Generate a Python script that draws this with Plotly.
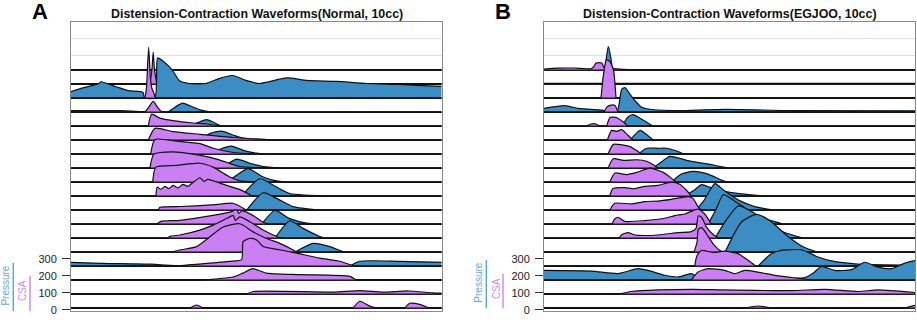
import plotly.graph_objects as go

BLUE = '#3C8DC3'
PURPLE = '#CA80F2'
X_MAX = 371

# ---------------- Panel A (Normal) : rows top -> bottom, (x, value) ----------------
A_PRESSURE = [
    [(0, 3), (371, 3)],
    [(0, 3), (371, 3)],
    [(0, 39), (10, 58), (28, 87), (30, 97), (45, 68), (57, 45), (72, 35), (73.5, 3), (84, 3), (86.7, 238),
     (91.7, 221), (101.7, 163), (108.3, 105), (118.3, 87), (135, 87), (148, 116), (161.7, 134), (175, 105),
     (189, 87), (216, 120), (236, 105), (266, 99), (296, 87), (329, 81), (346, 76), (371, 70)],
    [(0, 9), (50, 9), (74, 3), (97, 0), (104, 29), (111.7, 54), (120, 35), (130, 12), (140, 0)],
    [(115.7, 0), (125.7, 19), (135.7, 39), (142, 25), (150.7, 0)],
    [(129, 0), (139, 39), (150.7, 54), (162, 31), (172.3, 12), (205.7, 0)],
    [(139, 0), (149, 29), (160.7, 48), (172.3, 23), (185.7, 6), (195.7, 0)],
    [(150.7, 0), (165.7, 54), (179, 29), (192.3, 10), (215.7, 0)],
    [(155.7, 0), (165.7, 41), (177.3, 80), (192.3, 31), (205.7, 8), (215.7, 0)],
    [(170.7, 0), (189, 103), (205.7, 54), (219, 16), (262, 0)],
    [(175.7, 0), (192.3, 103), (205.7, 70), (222.3, 21), (249, 0)],
    [(190.7, 0), (204, 81), (219, 33), (235.7, 6), (250, 0)],
    [(204, 0), (219, 103), (232.3, 58), (249, 10), (255.7, 0)],
    [(224, 0), (242.3, 52), (259, 33), (272.3, 4), (280, 0)],
    [(0, 23), (30, 17), (80, 12), (109, 0), (279, 0), (289, 29), (329, 29), (371, 23)],
    [(0, 4), (371, 4)],
    [(0, 3), (371, 3)],
    [(0, 3), (371, 3)],
]
A_CSA = [
    [(0, 2), (371, 2)],
    [(79, 0), (81, 87), (82.3, 190), (83.5, 87), (86, 0)],
    [(74, 0), (75.5, 58), (77.7, 300), (79.5, 116), (81, 58), (83, 29), (84.5, 0)],
    [(74, 0), (77, 23), (82.3, 64), (86, 35), (90, 6), (95, 0)],
    [(77.3, 0), (80.7, 71), (89, 48), (102, 33), (122, 19), (136, 13), (149, 0)],
    [(77.3, 0), (84, 70), (102.3, 51), (129, 35), (162, 16), (205.7, 0)],
    [(79.7, 0), (84, 87), (105.7, 77), (115.7, 71), (129, 62), (142.3, 35), (162.3, 10), (195.7, 0)],
    [(79, 0), (83, 83), (102.3, 97), (122.3, 83), (142.3, 60), (155.7, 35), (169, 10), (215.7, 0)],
    [(81.7, 0), (85, 89), (105.7, 99), (129, 112), (142.3, 89), (159, 31), (169, 8), (205.7, 0)],
    [(85, 0), (86.3, 54), (90, 41), (94, 58), (98, 44), (102, 64), (107, 49), (112, 70), (117, 58),
     (122, 81), (129, 109), (133, 87), (137, 99), (149, 77), (169, 39), (182, 0)],
    [(87.3, 0), (89, 17), (110, 22), (129, 27), (145, 33), (162.3, 41), (175.7, 0)],
    [(85.7, 0), (90, 17), (109, 23), (142, 52), (159, 71), (165.7, 85), (168, 64), (171, 78), (182, 52),
     (192, 13), (197, 0)],
    [(95.7, 0), (100, 12), (109, 19), (129, 48), (142.3, 77), (155.7, 116), (162.3, 135), (164.5, 105),
     (169, 126), (179, 97), (192.3, 48), (205.7, 10), (210, 0)],
    [(100, 0), (109, 13), (125.7, 33), (139, 91), (152.3, 149), (169, 168), (182.3, 120), (195.7, 81),
     (209, 52), (222.3, 13), (226, 0)],
    [(105, 0), (120, 9), (159, 29), (170.7, 39), (172.3, 145), (179, 164), (185.7, 155), (192.3, 116),
     (209, 97), (225.7, 77), (249, 48), (269, 29), (279, 10), (285, 0)],
    [(129, 0), (162, 19), (172, 42), (182, 68), (195.7, 42), (229, 33), (279, 23), (285.7, 0)],
    [(175.7, 0), (182.3, 16), (262.3, 12), (289, 21), (312.3, 12), (337.3, 19), (362.3, 8), (371, 6)],
    [(119, 0), (125.7, 19), (132.3, 0), (282.3, 0), (289, 41), (299, 12), (305, 0), (334, 0), (339, 29),
     (349, 23), (359, 0)],
]

# ---------------- Panel B (EGJOO) ----------------
B_PRESSURE = [
    [(0, 2), (371, 2)],
    [(58.5, 0), (61.5, 120), (64.3, 222), (67, 150), (70, 0)],
    [(0, 2), (371, 2)],
    [(0, 23), (20.7, 39), (34, 23), (47.3, 17), (60.7, 10), (62.7, 3), (73, 3), (77.7, 135), (81, 145),
     (86, 106), (91, 68), (97.7, 29), (107.7, 16), (141, 10), (180.7, 17), (247.3, 10), (371, 8)],
    [(78, 0), (84, 54), (89.3, 68), (96, 47), (107.7, 6), (112, 0)],
    [(86, 0), (96, 58), (102.3, 35), (109, 4), (115, 0)],
    [(94, 0), (102.7, 35), (114, 35), (122.7, 35), (132.7, 19), (140, 0)],
    [(109, 0), (118, 40), (126, 70), (146, 42), (169.3, 19), (185, 0)],
    [(127.3, 0), (137.3, 48), (149.3, 64), (164, 48), (177.3, 13), (184, 0)],
    [(140.7, 0), (150, 35), (157.7, 68), (166, 52), (180, 29), (200, 12), (220, 0)],
    [(152, 0), (160, 58), (171, 157), (180, 116), (195, 58), (210, 23), (230, 0)],
    [(164, 0), (172, 87), (179.3, 174), (190, 139), (205, 81), (220, 35), (240, 0)],
    [(171, 0), (182, 105), (194.3, 190), (207.7, 157), (222, 93), (240, 35), (260, 0)],
    [(181, 0), (197.7, 180), (212.7, 223), (226, 186), (244, 93), (260, 29), (274, 0)],
    [(214, 0), (227.3, 74), (237.3, 93), (257.3, 97), (274, 54), (287.3, 31), (314, 12), (371, 6)],
    [(0, 58), (47.3, 54), (74, 39), (94, 68), (104, 58), (120.7, 29), (134, 19), (147.3, 39), (154, 19),
     (200, 12), (260.7, 16), (270, 46), (277.3, 81), (290.7, 58), (307.3, 62), (320.7, 106), (334, 77),
     (347.3, 68), (360.7, 101), (371, 116)],
    [(0, 3), (371, 3)],
    [(0, 2), (371, 2)],
]
B_CSA = [
    [(0, 6), (14, 12), (30, 13), (47, 9), (50, 23), (52, 43), (57.7, 43), (60, 17), (72.7, 8), (85, 4),
     (371, 4)],
    [(0, 5), (371, 5)],
    [(57, 0), (59.5, 140), (62.5, 228), (66, 215), (69.5, 165), (72, 0)],
    [(60, 0), (62.7, 29), (66, 40), (71, 40), (74, 0)],
    [(42, 0), (47, 13), (52, 13), (56, 0), (62.7, 0), (66, 52), (72.7, 50), (79.3, 25), (84, 0)],
    [(63.3, 0), (67.7, 58), (72.7, 52), (77.7, 62), (84, 29), (89, 0)],
    [(64, 0), (69.3, 58), (79.3, 54), (86, 45), (94.3, 15), (98, 0)],
    [(64, 0), (69.3, 56), (79.3, 46), (92.7, 50), (102.7, 41), (109.3, 20), (114, 0)],
    [(65.7, 0), (71, 54), (82.7, 45), (92.7, 58), (106, 83), (119.3, 58), (129.3, 15), (133, 0)],
    [(65.7, 0), (69, 45), (80.7, 51), (90, 44), (100.7, 58), (114, 64), (127.3, 83), (135.7, 70), (144, 25),
     (147.3, 0)],
    [(65.7, 0), (70.7, 41), (87.3, 37), (100.7, 51), (114, 54), (127.3, 64), (144, 80), (149, 70), (154, 21),
     (157.3, 0)],
    [(68, 0), (70.7, 31), (74, 41), (80.7, 17), (100.7, 21), (120.7, 35), (130.7, 51), (140.7, 60), (149, 80),
     (154, 89), (160.7, 60), (167.3, 0)],
    [(75, 0), (77.3, 19), (84, 33), (90.7, 19), (114, 19), (134, 33), (147.3, 39), (152, 58), (154.3, 132),
     (157.7, 122), (162.7, 64), (170, 17), (175, 0)],
    [(150, 0), (153, 58), (154.3, 135), (157.7, 145), (162.7, 106), (169.3, 48), (176, 10), (180, 0)],
    [(150.7, 0), (152.7, 58), (157.3, 93), (169.3, 81), (180.7, 89), (194, 74), (204, 35), (210.7, 6),
     (214, 0)],
    [(147.3, 0), (154, 48), (164, 68), (180.7, 58), (190.7, 39), (200.7, 58), (214, 48), (230.7, 29),
     (247.3, 16), (264, 4), (268, 0)],
    [(74, 0), (87.3, 16), (114, 25), (147.3, 29), (180.7, 25), (247.3, 21), (280.7, 29), (314, 16), (334, 25),
     (371, 10)],
    [(200, 0), (214, 13), (228, 0), (360, 0), (371, 17)],
]

TITLES = ['Distension-Contraction Waveforms(Normal, 10cc)', 'Distension-Contraction Waveforms(EGJOO, 10cc)']
PANEL_LETTERS = ['A', 'B']
Y_TICKS = [0, 100, 200, 300]
GRID_VALUES = [1500, 1600]

ROW_BASE0 = 9.3
ROW_STEP = 82.6
N_ROWS = 18

W, H = 917, 330


def px(x):
    return x / W


def py(y):
    return 1 - y / H


fig = go.Figure()


def add_panel(pressure, csa, xa, ya):
    for r in range(N_ROWS):
        base = ROW_BASE0 + ROW_STEP * (N_ROWS - 1 - r)
        for series, color in ((pressure, BLUE), (csa, PURPLE)):
            pts = list(series[r])
            if pts[0][0] > 0:
                pts = [(0, 0)] + pts
            if pts[-1][0] < X_MAX:
                pts = pts + [(X_MAX, 0)]
            xs, ys = [], []
            for x, v in pts:
                # zero-valued points are repeated so the smoothed curve meets the baseline flat
                reps = 2 if v == 0 else 1
                for _ in range(reps):
                    xs.append(x)
                    ys.append(base + v)
            fig.add_trace(go.Scatter(x=[xs[0], xs[-1]], y=[base, base], xaxis=xa, yaxis=ya, mode='lines',
                                     line=dict(color='rgba(0,0,0,0)', width=0),
                                     hoverinfo='skip', showlegend=False))
            fig.add_trace(go.Scatter(x=xs, y=ys, xaxis=xa, yaxis=ya, mode='lines', fill='tonexty',
                                     fillcolor=color,
                                     line=dict(color='#111111', width=1.2, shape='spline', smoothing=0.6,
                                               simplify=False),
                                     hoverinfo='skip', showlegend=False))
            fig.add_trace(go.Scatter(x=[0, X_MAX], y=[base, base], xaxis=xa, yaxis=ya, mode='lines',
                                     line=dict(color='#111111', width=1.3),
                                     hoverinfo='skip', showlegend=False))


add_panel(A_PRESSURE, A_CSA, 'x', 'y')
add_panel(B_PRESSURE, B_CSA, 'x2', 'y2')

y_dom = [py(315.4), py(22)]
axis_common_x = dict(range=[0, X_MAX], showticklabels=False, ticks='', showgrid=False, zeroline=False,
                     showline=True, linecolor='#8a8a8a', linewidth=1, mirror=True, fixedrange=True)
axis_common_y = dict(range=[-5, 1700], tickvals=Y_TICKS, ticks='outside', ticklen=8, tickcolor='#333333',
                     tickwidth=1, tickfont=dict(size=11, color='#222222', family='Liberation Sans'),
                     showgrid=False, zeroline=False, showline=True, linecolor='#8a8a8a', linewidth=1,
                     mirror=True, domain=y_dom, ticklabelstandoff=3)

fig.update_layout(
    width=W, height=H, margin=dict(l=0, r=0, t=0, b=0),
    paper_bgcolor='white', plot_bgcolor='white',
    font=dict(family='Liberation Sans', color='#222222'),
    xaxis=dict(domain=[px(71), px(441.7)], anchor='y', **axis_common_x),
    yaxis=dict(anchor='x', **axis_common_y),
    xaxis2=dict(domain=[px(544), px(915)], anchor='y2', **axis_common_x),
    yaxis2=dict(anchor='x2', **axis_common_y),
    showlegend=False,
)

shapes = []
for xa, ya in (('x', 'y'), ('x2', 'y2')):
    for g in GRID_VALUES:
        shapes.append(dict(type='line', xref=xa, yref=ya, x0=0, x1=X_MAX, y0=g, y1=g,
                           line=dict(color='#dedede', width=1), layer='below'))

annotations = []
for title, cx in zip(TITLES, (256.5, 729.5)):
    annotations.append(dict(text='<b>' + title + '</b>', x=px(cx), y=py(14.5), xref='paper', yref='paper',
                            xanchor='center', yanchor='middle', showarrow=False,
                            font=dict(size=12.4, color='#111111', family='Liberation Sans')))
for letter, cx in zip(PANEL_LETTERS, (39.5, 503)):
    annotations.append(dict(text='<b>' + letter + '</b>', x=px(cx), y=py(11.5), xref='paper', yref='paper',
                            xanchor='center', yanchor='middle', showarrow=False,
                            font=dict(size=22, color='#000000', family='Liberation Sans')))

label_specs = [
    # (text, color, text x, text y, line x, line y0, line y1)
    ('Pressure', '#5DA9DD', 6, 290, 13.3, 267, 316),
    ('CSA', '#D08CF2', 22.5, 295, 30, 280, 316),
    ('Pressure', '#5DA9DD', 479, 287, 486.3, 264, 313),
    ('CSA', '#D08CF2', 496.5, 293, 503, 278, 313),
]
for text, col, tx, ty, lx, ly0, ly1 in label_specs:
    annotations.append(dict(text=text, x=px(tx), y=py(ty), xref='paper', yref='paper', textangle=-90,
                            xanchor='center', yanchor='middle', showarrow=False,
                            font=dict(size=10, color=col, family='Liberation Sans')))
    shapes.append(dict(type='line', xref='paper', yref='paper', x0=px(lx), x1=px(lx), y0=py(ly0), y1=py(ly1),
                       line=dict(color=col, width=1.5)))

fig.update_layout(shapes=shapes, annotations=annotations)
fig.write_html('out.html')
